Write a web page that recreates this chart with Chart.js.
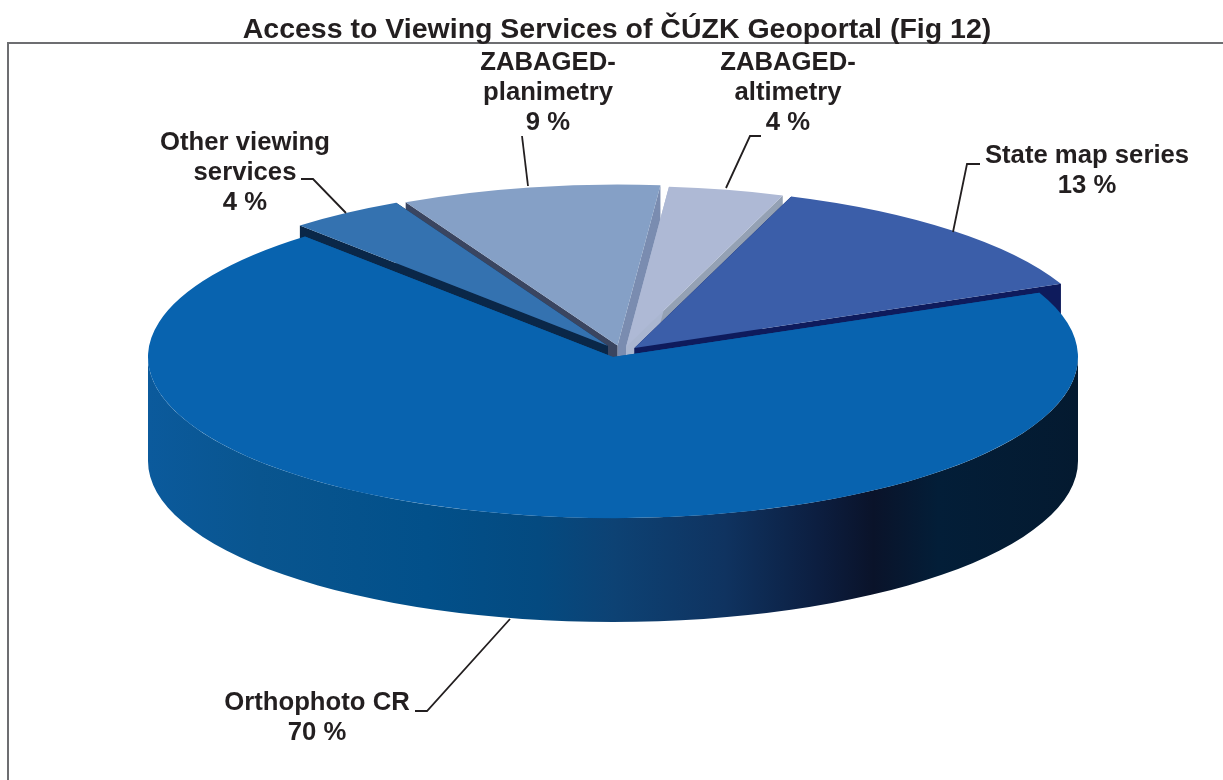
<!DOCTYPE html>
<html><head><meta charset="utf-8">
<style>html,body{margin:0;padding:0;background:#fff}#w{position:relative;width:1223px;height:780px}</style>
<script src="https://cdn.jsdelivr.net/npm/chart.js@4/dist/chart.umd.min.js"></script>
</head><body><div id="w"><canvas id="c" width="1223" height="780"></canvas></div>
<script>
const titleText = 'Access to Viewing Services of ČÚZK Geoportal (Fig 12)';
const categories = ['Other viewing services','ZABAGED-planimetry','ZABAGED-altimetry','State map series','Orthophoto CR'];
const shares = [4,9,4,13,70];
const topColors = ['#3472B0','#85A0C6','#AEB9D5','#3B5EA9','#0863AF'];
const labelLines = [['Other viewing','services','4 %'],['ZABAGED-','planimetry','9 %'],['ZABAGED-','altimetry','4 %'],['State map series','13 %'],['Orthophoto CR','70 %']];
const explodeX = [-5,4.5,13,21.5,0];
const explodeY = [-10.9,-11.5,-10,-9,0];
const wallFirst = ['#0A2748','#3A4560','#AAB6D0','#0E1B5C','#0A5A9C'];
const wallLast = ['#0A2748','#7A8CB0','#94A1B4','#0E1B5C','#0A5A9C'];
const wallOrder = [1,2,3,0,4];

const P = {cx:613, cy:357, rx:465, ry:161, d:104};
const labelPos = [[245,143],[548,63],[788,63],[1087,156],[317,703]];
const leaders = [[[301,179],[313,179],[346,213]],[[522,136],[528,186]],[[761,136],[750,136],[726,188]],[[980,164],[967,164],[953,232]],[[415,711],[427,711],[510,619]]];

function center(i){
  return {x:P.cx+explodeX[i], y:P.cy+explodeY[i]};
}
const pie3d = {
  id:'pie3d',
  beforeDraw(chart){
    const c=chart.ctx; c.save();
    c.strokeStyle='#6D6E71'; c.lineWidth=2;
    c.beginPath(); c.moveTo(8,780); c.lineTo(8,43); c.lineTo(1223,43); c.stroke();
    c.restore();
  },
  beforeDatasetDraw(chart,args){
    const c=chart.ctx, arcs=args.meta.data;
    wallOrder.forEach(i=>{
      const a=arcs[i], o=center(i), s=a.startAngle, e=a.endAngle;
      const px=t=>o.x+P.rx*Math.cos(t), py=t=>o.y+P.ry*Math.sin(t);
      const quad=(t,col)=>{c.fillStyle=col;c.beginPath();c.moveTo(o.x,o.y);c.lineTo(px(t),py(t));c.lineTo(px(t),py(t)+P.d);c.lineTo(o.x,o.y+P.d);c.closePath();c.fill();};
      quad(e,wallLast[i]); quad(s,wallFirst[i]);
      const a0=Math.max(s,0), a1=Math.min(e,Math.PI);
      if(a1>a0){
        const f=c.createLinearGradient(P.cx-P.rx,0,P.cx+P.rx,0);
        [[0,'#0B5A9C'],[0.12,'#09558F'],[0.3,'#02508A'],[0.42,'#044A80'],[0.5,'#0D4274'],[0.62,'#0F3360'],[0.72,'#0C1E40'],[0.78,'#0A132A'],[0.85,'#031E38'],[1,'#041A30']].forEach(g=>f.addColorStop(g[0],g[1]));
        c.fillStyle=f; c.beginPath();
        c.ellipse(o.x,o.y,P.rx,P.ry,0,a0,a1);
        c.ellipse(o.x,o.y+P.d,P.rx,P.ry,0,a1,a0,true);
        c.closePath(); c.fill();
      }
    });
    arcs.forEach((a,i)=>{
      const o=center(i);
      c.save();
      c.translate(o.x,o.y);
      c.scale(P.rx/a.outerRadius,P.ry/a.outerRadius);
      c.translate(-a.x,-a.y);
      a.draw(c);
      c.restore();
    });
    return false;
  },
  afterDraw(chart){
    const c=chart.ctx; c.save();
    c.strokeStyle='#231F20'; c.lineWidth=1.8;
    leaders.forEach(l=>{c.beginPath();l.forEach((p,j)=>j?c.lineTo(p[0],p[1]):c.moveTo(p[0],p[1]));c.stroke();});
    c.fillStyle='#231F20'; c.font='bold 25.7px "Liberation Sans"'; c.textAlign='center'; c.textBaseline='middle';
    labelLines.forEach((ls,i)=>ls.forEach((t,j)=>c.fillText(t,labelPos[i][0],labelPos[i][1]+j*30)));
    c.restore();
  }
};
new Chart(document.getElementById('c'),{
  type:'pie',
  data:{labels:categories,datasets:[{data:shares,backgroundColor:topColors,borderWidth:0}]},
  options:{
    responsive:false,animation:false,rotation:-41.5,
    layout:{padding:{left:11,top:4,bottom:10}},
    plugins:{legend:{display:false},tooltip:{enabled:false},
      title:{display:true,text:titleText,color:'#231F20',font:{family:'"Liberation Sans"',size:28.5,weight:'bold'},padding:{top:9,bottom:6}}}
  },
  plugins:[pie3d]
});
</script></body></html>
